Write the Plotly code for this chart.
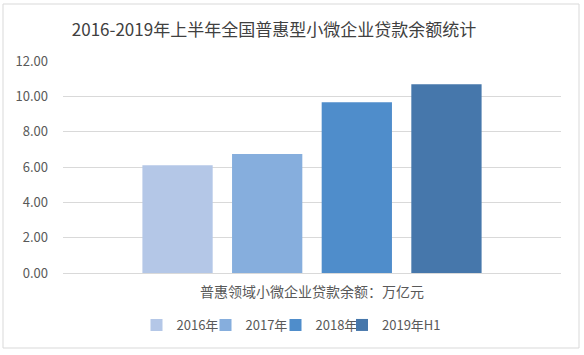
import plotly.graph_objects as go

title = "2016-2019年上半年全国普惠型小微企业贷款余额统计"
category = ["普惠领域小微企业贷款余额：万亿元"]
series_names = ["2016年", "2017年", "2018年", "2019年H1"]
values = [6.10, 6.73, 9.66, 10.68]
colors = ["#B4C7E7", "#86AEDD", "#4F8DCB", "#4677AB"]
y_ticks = [0, 2, 4, 6, 8, 10, 12]

W, H = 584, 355
ml, mr, mt, mb = 63, 23, 61, 82
pw, ph = W - ml - mr, H - mt - mb

def px2paper_x(px):
    return (px - ml) / pw

def px2paper_y(py):
    return (H - mb - py) / ph

legend_ids = ["legend", "legend2", "legend3", "legend4"]
legend_centers_px = [180, 249, 319, 394]

fig = go.Figure()
for name, v, c, lid in zip(series_names, values, colors, legend_ids):
    fig.add_trace(go.Bar(x=category, y=[v], name=name, legend=lid,
                         marker=dict(color=c, line=dict(width=0))))

legend_layout = {}
for lid, cx in zip(legend_ids, legend_centers_px):
    legend_layout[lid] = dict(orientation="h", x=px2paper_x(cx), xanchor="center",
                              y=px2paper_y(325), yanchor="middle",
                              font=dict(size=13, color="#595959"), itemwidth=30,
                              bgcolor="rgba(0,0,0,0)")

fig.update_layout(
    width=W, height=H,
    margin=dict(l=ml, r=mr, t=mt, b=mb),
    paper_bgcolor="white", plot_bgcolor="white",
    font=dict(family="Noto Sans CJK SC, sans-serif", color="#595959", size=12),
    title=dict(text=title, x=px2paper_x(274), xref="paper", xanchor="center",
               y=1 - 30 / H, yanchor="middle",
               font=dict(size=17, color="#404040")),
    barmode="group", bargap=0.28, bargroupgap=0.216,
    showlegend=True,
    xaxis=dict(showgrid=False, showline=True, linecolor="#D9D9D9", ticks="",
               ticklabelstandoff=6,
               tickfont=dict(size=14, color="#595959")),
    yaxis=dict(range=[0, 12], tickvals=y_ticks, tickformat=".2f", showgrid=True,
               gridcolor="#D9D9D9", gridwidth=1, zeroline=False, showline=False,
               tickfont=dict(size=13, color="#595959"), ticks="",
               ticklabelstandoff=14),
    shapes=[dict(type="rect", xref="paper", yref="paper",
                 x0=px2paper_x(3), x1=px2paper_x(579), y0=px2paper_y(348), y1=px2paper_y(4),
                 line=dict(color="#D9D9D9", width=1), fillcolor="rgba(0,0,0,0)", layer="below")],
    **legend_layout,
)

fig.write_html("out.html", config={"displayModeBar": False},
               post_script="document.body.style.margin='0';")
